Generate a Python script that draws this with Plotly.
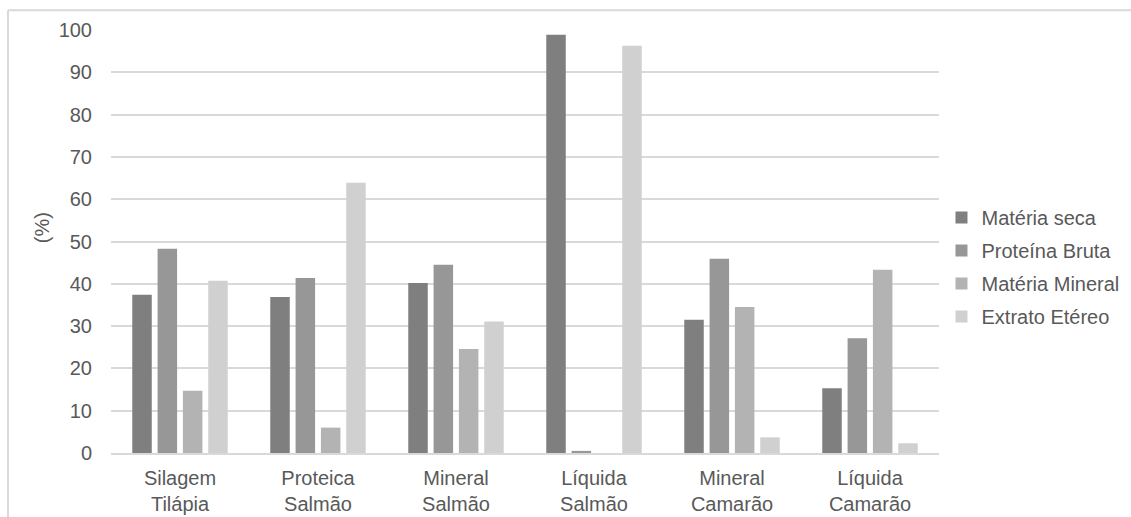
import plotly.graph_objects as go

# Categories (two-line labels) and series values (%)
categories = [
    "Silagem<br>Tilápia",
    "Proteica<br>Salmão",
    "Mineral<br>Salmão",
    "Líquida<br>Salmão",
    "Mineral<br>Camarão",
    "Líquida<br>Camarão",
]
materia_seca = [37.4, 36.9, 40.2, 98.9, 31.5, 15.3]
proteina_bruta = [48.3, 41.4, 44.5, 0.5, 45.9, 27.1]
materia_mineral = [14.7, 6.0, 24.6, 0.0, 34.5, 43.3]
extrato_etereo = [40.7, 63.9, 31.1, 96.3, 3.7, 2.3]

series_names = ["Matéria seca", "Proteína Bruta", "Matéria Mineral", "Extrato Etéreo"]
series_values = [materia_seca, proteina_bruta, materia_mineral, extrato_etereo]
series_colors = ["#7f7f7f", "#979797", "#b3b3b3", "#d0d0d0"]

y_ticks = list(range(0, 101, 10))

FONT = "Liberation Sans, Arial, sans-serif"
FS = 20
TEXT = "#595959"
GRID = "#d9d9d9"

fig = go.Figure()
for name, vals, col in zip(series_names, series_values, series_colors):
    fig.add_trace(go.Bar(
        x=categories, y=vals, name=name,
        marker=dict(color=col, line=dict(width=0)),
        legendgroup=name,
    ))

fig.update_layout(
    width=1131, height=517,
    margin=dict(l=111, r=192, t=30, b=64, autoexpand=False),
    paper_bgcolor="white", plot_bgcolor="white",
    barmode="group", bargap=0.266, bargroupgap=0.23,
    font=dict(family=FONT, size=FS, color=TEXT),
    showlegend=True,
    legend=dict(
        x=1.003, xanchor="left", y=0.44, yanchor="middle",
        font=dict(family=FONT, size=FS, color=TEXT),
        tracegroupgap=4, itemwidth=30,
        bgcolor="rgba(0,0,0,0)",
    ),
    xaxis=dict(
        showgrid=False, showline=True, linecolor=GRID, linewidth=1.5,
        tickfont=dict(family=FONT, size=FS, color=TEXT),
        ticklabelstandoff=6, automargin=False,
        fixedrange=True,
    ),
    yaxis=dict(
        range=[0, 100], tickvals=y_ticks,
        showgrid=True, gridcolor=GRID, gridwidth=1.5,
        zeroline=False, showline=False,
        tickfont=dict(family=FONT, size=FS, color=TEXT),
        ticklabelstandoff=18, automargin=False,
        fixedrange=True,
    ),
    annotations=[dict(
        text="(%)", textangle=-90, showarrow=False,
        xref="paper", yref="paper", x=-0.083, y=0.532,
        xanchor="center", yanchor="middle",
        font=dict(family=FONT, size=FS, color=TEXT),
    )],
    shapes=[
        # chart-area frame (left and top edges visible)
        dict(type="line", xref="paper", yref="paper",
             x0=-0.1244, x1=-0.1244, y0=1.0465, y1=-0.3,
             line=dict(color=GRID, width=2)),
        dict(type="line", xref="paper", yref="paper",
             x0=-0.1244, x1=1.3, y0=1.0465, y1=1.0465,
             line=dict(color=GRID, width=2)),
    ],
)

fig.write_html("out.html")
